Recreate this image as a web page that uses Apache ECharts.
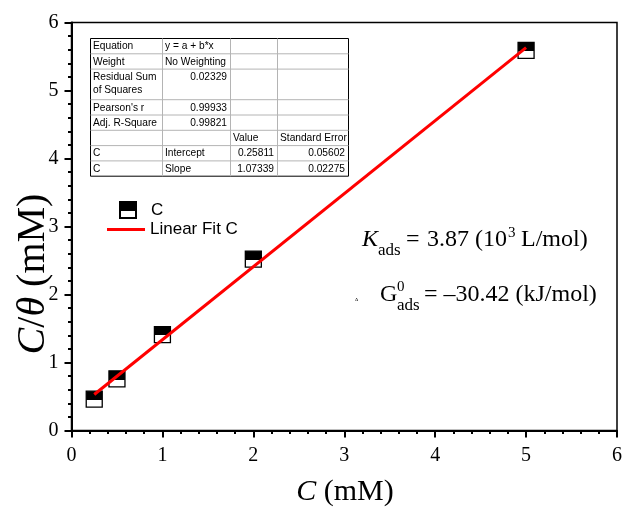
<!DOCTYPE html>
<html>
<head>
<meta charset="utf-8">
<title>C/θ vs C</title>
<script src="https://cdn.jsdelivr.net/npm/echarts@6/dist/echarts.min.js"></script>
<style>
    html, body, #main {
        width: 100%;
        height: 100%;
        margin: 0;
        padding: 0;
        overflow: hidden;
        background: #fff;
    }
</style>
</head>
<body>
<div id="main"></div>
<script>
    // data
    var concentration = [0.25, 0.5, 1, 2, 5];
    var cOverTheta = [0.46, 0.76, 1.41, 2.52, 5.59];
    var fitX = [0.25, 5];
    var fitY = [0.53, 5.63];

    // fit table text
    var tableRows = [
        ['Equation', 'y = a + b*x', '', ''],
        ['Weight', 'No Weighting', '', ''],
        ['Residual Sum\nof Squares', '0.02329', '', ''],
        ["Pearson's r", '0.99933', '', ''],
        ['Adj. R-Square', '0.99821', '', ''],
        ['', '', 'Value', 'Standard Error'],
        ['C', 'Intercept', '0.25811', '0.05602'],
        ['C', 'Slope', '1.07339', '0.02275']
    ];
    var rowSpans = [1, 1, 2, 1, 1, 1, 1, 1];

    var serif = '"Liberation Serif", "Times New Roman", serif';
    var sans = '"Liberation Sans", Arial, sans-serif';

    var chart = echarts.init(document.getElementById('main'));

    // build the table as graphic elements
    var tbl = {x: 90.5, y: 38.5, rowH: 15.3, cols: [72, 68, 47, 71]};
    var tableEls = [];
    var totalW = tbl.cols.reduce(function (a, b) { return a + b; }, 0);
    var totalH = rowSpans.reduce(function (a, b) { return a + b; }, 0) * tbl.rowH;
    tableEls.push({
        type: 'rect', shape: {x: tbl.x, y: tbl.y, width: totalW, height: totalH},
        style: {fill: '#fff', stroke: '#000', lineWidth: 1}, z: 10
    });
    var yy = tbl.y;
    for (var r = 0; r < tableRows.length; r++) {
        var h = rowSpans[r] * tbl.rowH;
        if (r > 0) {
            tableEls.push({
                type: 'line', shape: {x1: tbl.x, y1: yy, x2: tbl.x + totalW, y2: yy},
                style: {stroke: '#b4b4b4', lineWidth: 1}, z: 11
            });
        }
        var xx = tbl.x;
        for (var c = 0; c < tbl.cols.length; c++) {
            var cell = tableRows[r][c];
            if (cell) {
                var isNum = /^[\d.]+$/.test(cell);
                tableEls.push({
                    type: 'text', z: 12,
                    style: {
                        text: cell,
                        x: isNum ? xx + tbl.cols[c] - 3.5 : xx + 2.5,
                        y: yy + 1.5,
                        textAlign: isNum ? 'right' : 'left',
                        textVerticalAlign: 'top',
                        fontFamily: sans, fontSize: 10.2, lineHeight: 13,
                        fill: '#000'
                    }
                });
            }
            xx += tbl.cols[c];
        }
        yy += h;
    }
    var xx2 = tbl.x;
    for (var c2 = 0; c2 < tbl.cols.length - 1; c2++) {
        xx2 += tbl.cols[c2];
        tableEls.push({
            type: 'line', shape: {x1: xx2, y1: tbl.y, x2: xx2, y2: tbl.y + totalH},
            style: {stroke: '#b4b4b4', lineWidth: 1}, z: 11
        });
    }

    function label(s, x, y, size, opts) {
        var st = {text: s, x: x, y: y, fontFamily: serif, fontSize: size, fill: '#000',
            textAlign: 'left', textVerticalAlign: 'middle'};
        for (var k in (opts || {})) st[k] = opts[k];
        return {type: 'text', style: st, z: 20};
    }

    var annot = [
        label('K', 362, 240, 24, {fontStyle: 'italic'}),
        label('ads', 378, 250.5, 17),
        label('=', 406, 240, 24),
        label('3.87 (10', 427, 240, 24),
        label('3', 508, 233, 15),
        label('L/mol)', 521, 240, 24),
        label('Δ', 355, 300, 5),
        label('G', 380, 295, 24),
        label('0', 397, 287, 15),
        label('ads', 397, 305.5, 17),
        label('= \u201330.42 (kJ/mol)', 424, 295, 24),
        {
            type: 'text', z: 20, x: 33, y: 274, rotation: Math.PI / 2,
            style: {
                text: '{i|C}/{i|θ} (mM)', x: 0, y: 0, textAlign: 'center', textVerticalAlign: 'middle',
                fontFamily: serif, fontSize: 40, fill: '#000',
                rich: {i: {fontStyle: 'italic', fontFamily: serif, fontSize: 40}}
            }
        },
        {
            type: 'text', z: 20,
            style: {
                text: '{i|C} (mM)', x: 345, y: 492, textAlign: 'center', textVerticalAlign: 'middle',
                fontFamily: serif, fontSize: 30, fill: '#000',
                rich: {i: {fontStyle: 'italic', fontFamily: serif, fontSize: 30}}
            }
        }
    ];

    var halfFill = new echarts.graphic.LinearGradient(0, 0, 0, 1, [
        {offset: 0, color: '#000'}, {offset: 0.55, color: '#000'},
        {offset: 0.55, color: '#fff'}, {offset: 1, color: '#fff'}
    ]);

    var axisCommon = {
        type: 'value', min: 0, max: 6, interval: 1,
        axisLine: {show: true, onZero: false, lineStyle: {color: '#000', width: 2}},
        axisTick: {show: true, inside: false, length: 7, lineStyle: {color: '#000', width: 2}},
        minorTick: {show: true, splitNumber: 5, length: 3.5, lineStyle: {color: '#000', width: 2}},
        splitLine: {show: false},
        axisLabel: {fontFamily: serif, fontSize: 20, color: '#000', margin: 13}
    };

    var option = {
        animation: false,
        backgroundColor: '#fff',
        grid: {left: 71.5, right: 5, top: 22.5, bottom: 77.5, show: true, borderColor: '#000', borderWidth: 1.5},
        xAxis: Object.assign({}, axisCommon, {axisLabel: {fontFamily: serif, fontSize: 20, color: '#000', margin: 15}}),
        yAxis: Object.assign({}, axisCommon),
        legend: [
            {
                data: ['C'], left: 119, top: 201, padding: 0, itemWidth: 16, itemHeight: 16,
                textStyle: {fontFamily: sans, fontSize: 17, color: '#000', padding: [0, 0, 0, 10]}
            },
            {
                data: [{name: 'Linear Fit C', icon: 'rect'}], left: 107, top: 221, padding: 0,
                itemWidth: 38, itemHeight: 3,
                textStyle: {fontFamily: sans, fontSize: 17, color: '#000'}
            }
        ],
        graphic: tableEls.concat(annot),
        series: [
            {
                name: 'C', type: 'scatter', symbol: 'rect', symbolSize: 16, z: 2,
                itemStyle: {color: halfFill, borderColor: '#000', borderWidth: 1.3, opacity: 1},
                data: concentration.map(function (x, i) { return [x, cOverTheta[i]]; })
            },
            {
                name: 'Linear Fit C', type: 'line', symbol: 'none', showSymbol: false, z: 3,
                lineStyle: {color: '#ff0000', width: 3},
                itemStyle: {color: '#ff0000'},
                data: fitX.map(function (x, i) { return [x, fitY[i]]; })
            }
        ]
    };
    chart.setOption(option);
</script>
</body>
</html>
